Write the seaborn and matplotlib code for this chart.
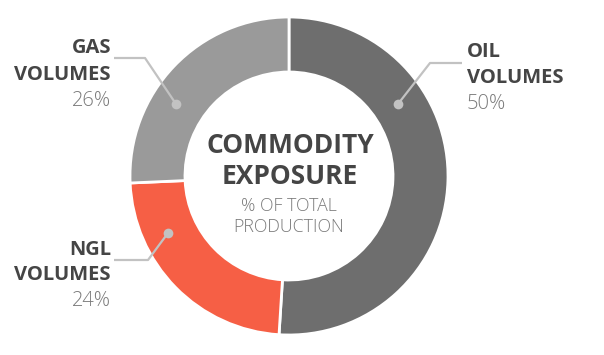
import numpy as np
import matplotlib
matplotlib.use("Agg")
import matplotlib.pyplot as plt
import seaborn as sns

# data (clockwise from 12 o'clock)
segments = ["OIL", "NGL", "GAS"]
shares = [51.0, 23.3, 25.7]
pct_labels = ["50%", "24%", "26%"]
colors = ["#6e6e6e", "#f65f45", "#9a9a9a"]

title_lines = ["COMMODITY", "EXPOSURE"]
sub_lines = ["% OF TOTAL", "PRODUCTION"]

W, H = 604, 355

sns.set_theme(style="white")
plt.rcParams["font.family"] = ["Open Sans", "DejaVu Sans"]


def py(y):
    # picture y (top-down) -> axes y (bottom-up)
    return H - y


fig = plt.figure(figsize=(W / 100, H / 100), dpi=100)
ax = fig.add_axes([0, 0, 1, 1])

cx, cy, r_out, r_in = 289, 176, 159, 104
ax.pie(shares, colors=colors, startangle=90, counterclock=False,
       center=(cx, py(cy)), radius=r_out,
       wedgeprops=dict(width=r_out - r_in, edgecolor="white", linewidth=2))

# leader lines: dot on ring, elbow, end of horizontal
leaders = {
    "OIL": [(398, 104), (430, 63), (462, 63)],
    "GAS": [(176, 104), (145, 58), (114, 58)],
    "NGL": [(168, 233), (148, 260), (114, 260)],
}
line_col = "#c2c2c2"
for name, pts in leaders.items():
    xs = [p[0] for p in pts]
    ys = [py(p[1]) for p in pts]
    ax.plot(xs, ys, color=line_col, lw=1.6, solid_capstyle="butt", zorder=3)
    ax.plot(xs[0], ys[0], "o", ms=7, color=line_col, mec="none", zorder=4)

# segment labels: (x, ha, baselines for name / VOLUMES / pct)
label_pos = {
    "OIL": (467, "left", [57, 83, 109]),
    "GAS": (111, "right", [53, 80, 106]),
    "NGL": (111, "right", [255, 280, 306]),
}
dark = "#454545"
light = "#7a7a7a"
for name, pct in zip(segments, pct_labels):
    x, ha, bl = label_pos[name]
    ax.text(x, py(bl[0]), name, ha=ha, va="baseline", fontsize=14.5,
            fontweight="bold", color=dark)
    ax.text(x, py(bl[1]), "VOLUMES", ha=ha, va="baseline", fontsize=14.5,
            fontweight="bold", color=dark)
    ax.text(x, py(bl[2]), pct, ha=ha, va="baseline", fontsize=14.5,
            fontweight="light", color=light)

# centre text
for line, b in zip(title_lines, [153, 184]):
    ax.text(290, py(b), line, ha="center", va="baseline", fontsize=19,
            fontweight="bold", color=dark)
for line, b in zip(sub_lines, [211, 232]):
    ax.text(289, py(b), line, ha="center", va="baseline", fontsize=12.8,
            fontweight="light", color=light)

ax.set_xlim(0, W)
ax.set_ylim(0, H)
ax.set_aspect("equal")
ax.axis("off")

fig.savefig("out.png", dpi=100, facecolor="white")
